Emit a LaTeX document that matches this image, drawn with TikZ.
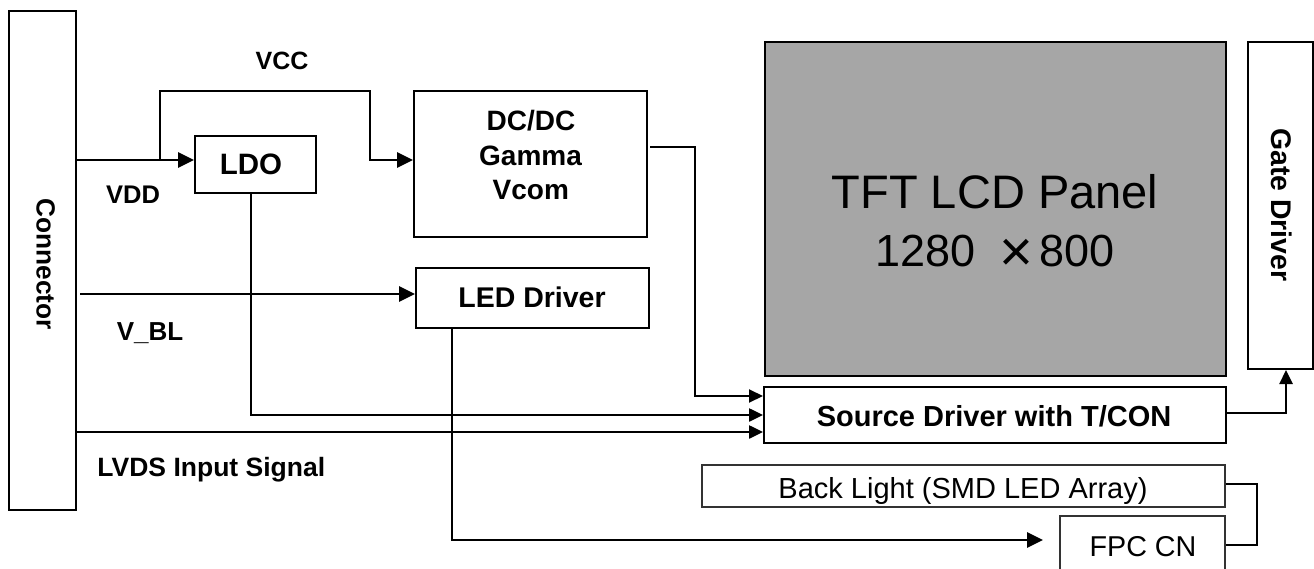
\documentclass[tikz,border=0pt]{standalone}
\usepackage{fontspec}
\setmainfont{Liberation Sans}
\usetikzlibrary{arrows.meta,calc}
\definecolor{panelgray}{RGB}{166,166,166}
\newcommand{\fsz}[1]{\fontsize{#1}{#1}\selectfont}
\begin{document}
\begin{tikzpicture}[x=1pt,y=-1pt,
  box/.style={draw=black,line width=2pt,inner sep=0pt},
  thinbox/.style={draw=black!80,line width=1.2pt,inner sep=0pt},
  lbl/.style={inner sep=0pt,anchor=base,font=\bfseries},
  arr/.style={line width=2.8pt,-{Triangle[length=16pt,width=15pt]}},
  arrs/.style={line width=2.5pt,-{Triangle[length=14pt,width=13pt]}},
  wire/.style={line width=2pt}]
\useasboundingbox (0,0) rectangle (1314,569);
\clip (0,0) rectangle (1314,569);
% boxes
\node[box,minimum width=66.7pt,minimum height=499.3pt] (conn) at (42.3,260.3) {};
\node[inner sep=0pt,rotate=-90,font=\bfseries\fsz{26.3}] (conntext) at (45.8,264) {Connector};
\node[box,minimum width=121pt,minimum height=56.7pt] (LDO) at (255.5,164.3) {};
\node[lbl,font=\bfseries\fsz{29.5}] (ldotext) at (251,174.5) {LDO};
\node[box,minimum width=233pt,minimum height=146pt] (DC) at (530.5,164) {};
\node[lbl,font=\bfseries\fsz{28}] (dc1) at (531,130.7) {DC/DC};
\node[lbl,font=\bfseries\fsz{28}] (dc2) at (530.5,166) {Gamma};
\node[lbl,font=\bfseries\fsz{28}] (dc3) at (530.8,199.5) {Vcom};
\node[box,minimum width=233pt,minimum height=60pt] (LED) at (532.5,298) {};
\node[lbl,font=\bfseries\fsz{28.5}] (ledtext) at (532,308) {LED Driver};
\node[box,fill=panelgray,minimum width=461pt,minimum height=334pt] (panel) at (995.5,209) {};
\node[lbl,font=\fsz{47}] (panel1) at (995,208.3) {TFT LCD Panel};
\node[lbl,font=\fsz{45}] (panel2) at (995,266.7) {1280\hspace{24pt}\raisebox{-5pt}{\fsz{58}×}\hspace{6pt}800};
\node[box,minimum width=65pt,minimum height=327pt] (gate) at (1280.5,205.5) {};
\node[inner sep=0pt,rotate=-90,font=\bfseries\fsz{28.4}] (gatetext) at (1281.5,205) {Gate Driver};
\node[box,minimum width=462pt,minimum height=56pt] (Src) at (995,415) {};
\node[lbl,font=\bfseries\fsz{29}] (srctext) at (994,426) {Source Driver with T/CON};
\node[thinbox,minimum width=523pt,minimum height=42pt] (BL) at (963.5,486) {};
\node[lbl,font=\fsz{29}] (bltext) at (963,498.3) {Back Light (SMD LED Array)};
\node[thinbox,minimum width=165pt,minimum height=70pt] (FPC) at (1142.5,551) {};
\node[lbl,font=\fsz{28.7}] (fpctext) at (1143,556) {FPC CN};
% labels
\node[lbl,font=\bfseries\fsz{25}] (vcc) at (282,70) {VCC};
\node[lbl,font=\bfseries\fsz{25.5}] (vdd) at (133,203.3) {VDD};
\node[lbl,font=\bfseries\fsz{26}] (vbl) at (150,340) {V\_BL};
\node[lbl,font=\bfseries\fsz{26.5}] (lvds) at (211.3,476) {LVDS Input Signal};
% coordinates
\coordinate (vddA) at (75.7,160);
\coordinate (br) at (160,160);
\coordinate (vccA) at (160,91);
\coordinate (vccB) at (370,91);
\coordinate (vblA) at (80,294);
\coordinate (lvdsA) at (75.7,432);
\coordinate (fpcin) at (1043,540);
% connectors
\draw[arr] (vddA) -- (LDO.west |- vddA);
\draw[arr] (br) -- (vccA) -- (vccB) -- (vccB |- vddA) -- (DC.west |- vddA);
\draw[arr] (vblA) -- (LED.west |- vblA);
\draw[arrs] ([xshift=-4.5pt]LDO.south) |- (Src.west);
\draw[arrs] (lvdsA) -- (Src.west |- lvdsA);
\draw[arrs,line width=2pt] ([yshift=17pt,xshift=2pt]DC.east) -- ++(45,0) |- ([yshift=19pt]Src.west);
\draw[arrs] ([yshift=2pt]Src.east) -| ([xshift=5.5pt]gate.south);
\draw[arr] ([xshift=-80.5pt]LED.south) |- (fpcin);
\draw[wire] ([yshift=2pt]BL.east) -- ++(31,0) |- ([yshift=6pt]FPC.east);
\end{tikzpicture}
\end{document}
